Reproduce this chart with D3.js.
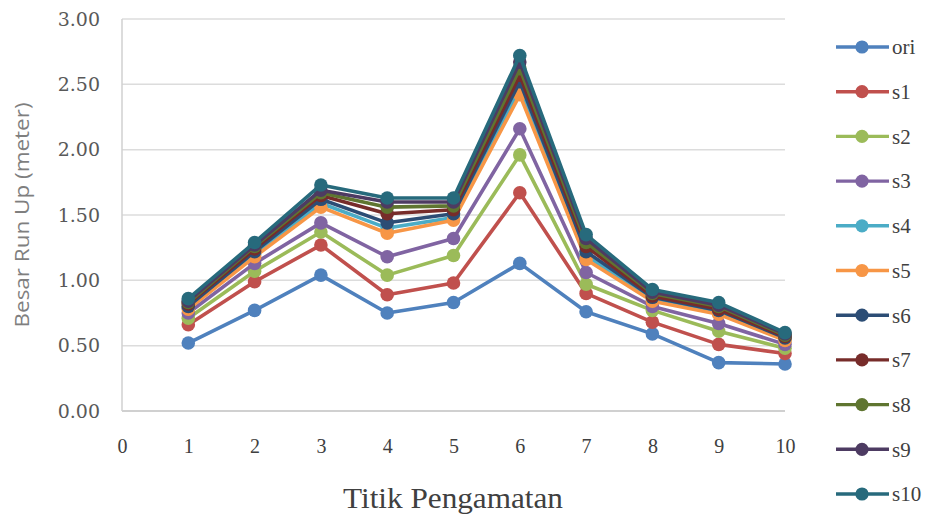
<!DOCTYPE html>
<html><head><meta charset="utf-8">
<script src="https://cdn.jsdelivr.net/npm/d3@7"></script>
<style>body{margin:0;background:#fff}</style>
</head><body>
<svg id="c" width="931" height="519"></svg>
<script>
const points = [1,2,3,4,5,6,7,8,9,10];
const xTicks = [0,1,2,3,4,5,6,7,8,9,10];
const yTicks = [0,0.5,1,1.5,2,2.5,3];
const seriesNames = ["ori","s1","s2","s3","s4","s5","s6","s7","s8","s9","s10"];
const seriesColors = ["#4F81BD","#C0504D","#9BBB59","#8064A2","#4BACC6","#F79646","#2C4D75","#772C2A","#5F7530","#4D3B62","#276A7C"];
const ori = [0.52,0.77,1.04,0.75,0.83,1.13,0.76,0.59,0.37,0.36];
const s1  = [0.66,0.99,1.27,0.89,0.98,1.67,0.90,0.68,0.51,0.44];
const s2  = [0.71,1.07,1.37,1.04,1.19,1.96,0.97,0.77,0.61,0.48];
const s3  = [0.75,1.13,1.44,1.18,1.32,2.16,1.06,0.80,0.67,0.51];
const s4  = [0.79,1.20,1.59,1.40,1.48,2.46,1.19,0.85,0.75,0.55];
const s5  = [0.78,1.18,1.56,1.36,1.46,2.42,1.16,0.84,0.74,0.54];
const s6  = [0.80,1.22,1.62,1.44,1.51,2.52,1.22,0.87,0.77,0.56];
const s7  = [0.82,1.24,1.65,1.51,1.54,2.57,1.26,0.88,0.78,0.57];
const s8  = [0.83,1.26,1.67,1.56,1.57,2.62,1.29,0.90,0.80,0.58];
const s9  = [0.84,1.27,1.69,1.60,1.60,2.67,1.32,0.91,0.81,0.59];
const s10 = [0.86,1.29,1.73,1.63,1.63,2.72,1.35,0.93,0.83,0.60];
const seriesValues = [ori,s1,s2,s3,s4,s5,s6,s7,s8,s9,s10];

const svg = d3.select("#c");
const x = d3.scaleLinear().domain([0,10]).range([122,785]);
const y = d3.scaleLinear().domain([0,3]).range([411,19]);

// gridlines
svg.append("g").selectAll("line").data(yTicks.filter(d=>d>0)).join("line")
  .attr("x1",x(0)).attr("x2",x(10)).attr("y1",d=>y(d)).attr("y2",d=>y(d))
  .attr("stroke","#dcdcdc").attr("stroke-width",1.5);
// axes lines
svg.append("line").attr("x1",x(0)).attr("x2",x(0)).attr("y1",y(3)).attr("y2",y(0))
  .attr("stroke","#d0d0d0").attr("stroke-width",1.5);
svg.append("line").attr("x1",x(0)).attr("x2",x(10)).attr("y1",y(0)).attr("y2",y(0))
  .attr("stroke","#d0d0d0").attr("stroke-width",2);

// y tick labels
const yAxis = d3.axisLeft(y).tickValues(yTicks).tickFormat(d3.format(".2f")).tickSize(0).tickPadding(22);
const gy = svg.append("g").attr("transform",`translate(${x(0)},0)`).call(yAxis);
gy.select(".domain").remove();
gy.selectAll("text").attr("font-family","'DejaVu Serif', serif").attr("font-size",19).attr("fill","#595959");

// x tick labels
const xAxis = d3.axisBottom(x).tickValues(xTicks).tickFormat(d3.format("d")).tickSize(0).tickPadding(28);
const gx = svg.append("g").attr("transform",`translate(0,${y(0)})`).call(xAxis);
gx.select(".domain").remove();
gx.selectAll("text").attr("font-family","'Liberation Serif', serif").attr("font-size",20).attr("fill","#404040");

// axis titles
svg.append("text").attr("transform",`translate(29,${(y(3)+y(0))/2}) rotate(-90)`)
  .attr("text-anchor","middle").attr("font-family","'Open Sans', 'Noto Sans', sans-serif")
  .attr("font-size",20).attr("fill","#7f7f7f").attr("textLength",225).attr("lengthAdjust","spacingAndGlyphs")
  .text("Besar Run Up (meter)");
svg.append("text").attr("x",453).attr("y",508).attr("text-anchor","middle")
  .attr("font-family","'Liberation Serif', serif").attr("font-size",30)
  .attr("fill","#404040").attr("textLength",220).attr("lengthAdjust","spacingAndGlyphs").text("Titik Pengamatan");

// lines
const line = d3.line().x((d,i)=>x(points[i])).y(d=>y(d));
seriesValues.forEach((vals,k)=>{
  const g = svg.append("g");
  g.append("path").attr("d",line(vals)).attr("fill","none")
    .attr("stroke",seriesColors[k]).attr("stroke-width",3.6).attr("stroke-linejoin","round");
  g.selectAll("circle").data(vals).join("circle")
    .attr("cx",(d,i)=>x(points[i])).attr("cy",d=>y(d)).attr("r",6.8)
    .attr("fill",seriesColors[k]);
});

// legend
const leg = svg.append("g");
seriesNames.forEach((n,k)=>{
  const ly = 47 + k*44.7;
  leg.append("line").attr("x1",836).attr("x2",889).attr("y1",ly).attr("y2",ly)
    .attr("stroke",seriesColors[k]).attr("stroke-width",3.4);
  leg.append("circle").attr("cx",862).attr("cy",ly).attr("r",6.6).attr("fill",seriesColors[k]);
  leg.append("text").attr("x",892).attr("y",ly).attr("dy","0.35em")
    .attr("font-family","'Liberation Serif', serif").attr("font-size",21).attr("fill","#404040").text(n);
});
</script>
</body></html>
